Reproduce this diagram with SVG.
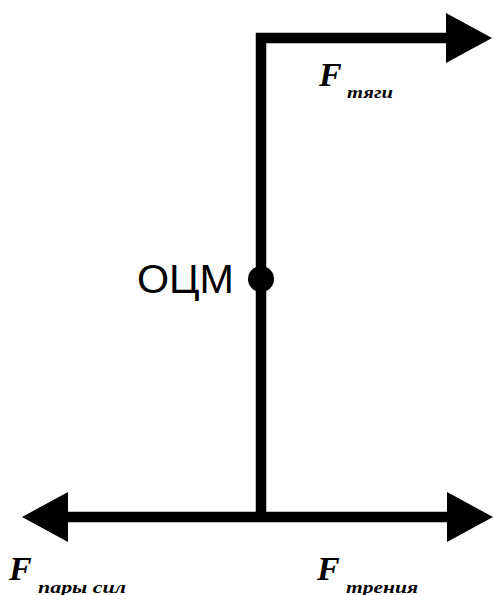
<svg xmlns="http://www.w3.org/2000/svg" width="494" height="595" viewBox="0 0 494 595">
<style>
.ln{fill:none;stroke:#000;stroke-width:10.5;stroke-linejoin:miter}
.F{font-family:"Liberation Serif","Times New Roman",serif;font-style:italic;font-weight:bold;font-size:34px;fill:#000}
.sub{font-family:"Liberation Serif","Times New Roman",serif;font-style:italic;font-weight:bold;font-size:16px;fill:#000}
.lbl{font-family:"Liberation Sans",Arial,sans-serif;font-size:40px;fill:#000}
</style>
<defs>
<marker id="ah" viewBox="0 0 46 50" markerWidth="46" markerHeight="50" refX="1" refY="25" orient="auto" markerUnits="userSpaceOnUse">
<path d="M0,0 L46,25 L0,50 Z" fill="#000"/>
</marker>
</defs>
<rect width="494" height="595" fill="#fff"/>
<g id="connectors">
<path class="ln" d="M261,517 V38 H447" marker-end="url(#ah)"/>
<path class="ln" d="M261,517 H67" marker-end="url(#ah)"/>
<path class="ln" d="M261,517 H448" marker-end="url(#ah)"/>
</g>
<g id="ocm">
<circle cx="261" cy="279" r="13" fill="#000"/>
<text class="lbl" x="137" y="293" textLength="97" lengthAdjust="spacingAndGlyphs">ОЦМ</text>
</g>
<g id="f-tyagi">
<text class="F" x="319" y="86">F</text>
<text class="sub" x="347" y="98" textLength="46" lengthAdjust="spacingAndGlyphs">тяги</text>
</g>
<g id="f-pary-sil">
<text class="F" x="9" y="580">F</text>
<text class="sub" x="38" y="593" textLength="88" lengthAdjust="spacingAndGlyphs">пары сил</text>
</g>
<g id="f-treniya">
<text class="F" x="317" y="580">F</text>
<text class="sub" x="346" y="593" textLength="72" lengthAdjust="spacingAndGlyphs">трения</text>
</g>
</svg>
